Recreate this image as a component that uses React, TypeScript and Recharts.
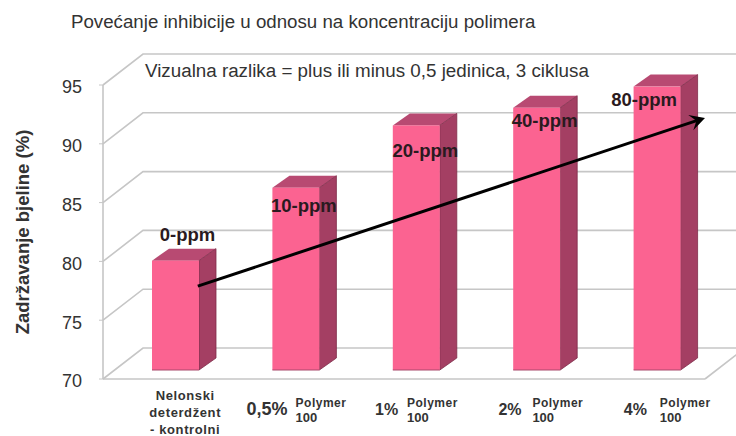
import React from 'react'
import { BarChart, Bar, XAxis, YAxis, CartesianGrid, LabelList, ReferenceLine } from 'recharts'

const categories = ['Nelonski deterdžent - kontrolni', '0,5% Polymer 100', '1 % Polymer 100', '2% Polymer 100', '4 % Polymer 100']
const retention = [79.3, 85.5, 90.8, 92.3, 94.1]
const ppmLabels = ['0-ppm', '10-ppm', '20-ppm', '40-ppm', '80-ppm']
const yTicks = [70, 75, 80, 85, 90, 95]
const controlLines = ['Nelonski', 'deterdžent', '- kontrolni']
const doseLabels = ['', '0,5%', '1 %', '2%', '4 %']

// arrow runs on a hidden 0-4 axis that spans the plot width
const arrowStart = { x: 0.63, y: 77.9 }
const arrowEnd = { x: 4, y: 92.2 }

const WIDTH = 736
const HEIGHT = 436
const PLOT_BOTTOM = 379
const WALL_DX = 40
const WALL_DY = 31
const BAR_DX = 12
const BAR_DY = 9
const SIDE_DX = 17
const SIDE_DY = 12

const GRID = '#c6c6c6'
const TEXT = '#333333'

// label shift from the bar's top centre, per bar
const labelShift = [
  { dx: 12, dy: -26 },
  { dx: 8, dy: 18 },
  { dx: 9, dy: 25 },
  { dx: 8, dy: 13 },
  { dx: -13, dy: 13 }
]
// tick text shift from the band centre, per category
const tickShift = [
  { dose: 0, carrier: 0 },
  { dose: -37, carrier: 12 },
  { dose: -29, carrier: 3 },
  { dose: -26, carrier: 8 },
  { dose: -21, carrier: 15 }
]

const Wall3D = ({ x1, y1, x2 }: any) => (
  <path
    d={
      `M${x1} ${y1}L${x1 + WALL_DX} ${y1 - WALL_DY}L${x2 + WALL_DX} ${y1 - WALL_DY}` +
      (Math.round(y1) === PLOT_BOTTOM ? `M${x2} ${y1}L${x2 + WALL_DX} ${y1 - WALL_DY}` : '')
    }
    fill="none"
    stroke={GRID}
    strokeWidth={1.6}
  />
)

const Bar3D = ({ x, y, width, height }: any) => {
  const left = x + BAR_DX
  const right = left + width
  const top = y - BAR_DY
  const bottom = top + height
  return (
    <g>
      <polygon
        points={`${left},${top} ${left + SIDE_DX},${top - SIDE_DY} ${right + SIDE_DX},${top - SIDE_DY} ${right},${top}`}
        fill="#b84a72"
      />
      <polygon
        points={`${right},${top} ${right + SIDE_DX},${top - SIDE_DY} ${right + SIDE_DX},${bottom - SIDE_DY} ${right},${bottom}`}
        fill="#a43f63"
        stroke="#7d2c49"
        strokeWidth={0.8}
      />
      <rect x={left} y={top} width={width} height={height} fill="#fb6391" />
      <line x1={left} y1={bottom} x2={right} y2={bottom} stroke="#a8486a" strokeWidth={1} />
    </g>
  )
}

const PpmLabel = ({ x, y, width, index, value }: any) => (
  <text
    x={x + BAR_DX + width / 2 + labelShift[index].dx}
    y={y - BAR_DY + labelShift[index].dy}
    textAnchor="middle"
    dominantBaseline="central"
    fontFamily="Liberation Sans"
    fontSize={18.5}
    fontWeight="bold"
    fill="#2a1a20"
  >
    {value}
  </text>
)

const CategoryTick = ({ x, index }: any) => {
  const bold = { fontFamily: 'Liberation Sans', fontWeight: 'bold', fill: TEXT }
  if (index === 0) {
    return (
      <g>
        {controlLines.map((line, i) => (
          <text key={line} x={x + 22} y={400 + i * 17} textAnchor="middle" fontSize={13} letterSpacing={0.6} {...bold}>
            {line}
          </text>
        ))}
      </g>
    )
  }
  const shift = tickShift[index]
  return (
    <g>
      <text x={x + shift.dose} y={415} fontSize={index === 1 ? 18 : 16} wordSpacing={-4.4} {...bold}>{doseLabels[index]}</text>
      <text x={x + shift.carrier} y={407} fontSize={12} letterSpacing={0.5} {...bold}>Polymer</text>
      <text x={x + shift.carrier} y={422} fontSize={13} {...bold}>100</text>
    </g>
  )
}

const ArrowLine = ({ x1, y1, x2, y2 }: any) => {
  const angle = Math.atan2(y2 - y1, x2 - x1)
  const at = (back: number, side: number) =>
    `${x2 - back * Math.cos(angle) - side * Math.sin(angle)},${y2 - back * Math.sin(angle) + side * Math.cos(angle)}`
  return (
    <g>
      <line x1={x1} y1={y1} x2={x2 - 4 * Math.cos(angle)} y2={y2 - 4 * Math.sin(angle)} stroke="#000" strokeWidth={3} />
      <polygon points={`${x2},${y2} ${at(15, 8)} ${at(9, 0)} ${at(15, -8)}`} fill="#000" />
    </g>
  )
}

export default function App() {
  const data = categories.map((name, i) => ({ name, value: retention[i], ppm: ppmLabels[i] }))

  return (
    <div style={{ position: 'absolute', left: 0, top: 0, width: WIDTH, height: HEIGHT, overflow: 'hidden', background: '#fff' }}>
      <BarChart
        width={WIDTH}
        height={HEIGHT}
        data={data}
        barSize={47}
        margin={{ top: 85, right: 31, bottom: 0, left: 0 }}
      >
        <CartesianGrid vertical={false} horizontal={Wall3D as any} />
        <XAxis
          dataKey="name"
          height={57}
          interval={0}
          axisLine={{ stroke: GRID, strokeWidth: 1.6 }}
          tickLine={false}
          tick={<CategoryTick />}
        />
        <XAxis xAxisId="pos" type="number" domain={[0, 4]} allowDataOverflow hide />
        <YAxis
          domain={[70, 95]}
          ticks={yTicks}
          width={103}
          tickSize={4}
          tickMargin={17}
          axisLine={{ stroke: GRID, strokeWidth: 1.6 }}
          tickLine={{ stroke: GRID }}
          tick={{ fill: TEXT, fontSize: 18, fontFamily: 'Liberation Sans', dy: 2 }}
          label={{
            value: 'Zadržavanje bjeline (%)',
            angle: -90,
            position: 'center',
            dx: -29,
            style: { fontFamily: 'Liberation Sans', fontWeight: 'bold', fontSize: 18.5, fill: TEXT, textAnchor: 'middle' }
          }}
        />
        <Bar dataKey="value" shape={<Bar3D />} isAnimationActive={false}>
          <LabelList dataKey="ppm" content={<PpmLabel />} />
        </Bar>
        <ReferenceLine
          xAxisId="pos"
          segment={[arrowStart, arrowEnd]}
          ifOverflow="visible"
          shape={<ArrowLine />}
        />
        <text x={71} y={28} fontFamily="Liberation Sans" fontSize={18.7} fill={TEXT}>
          Povećanje inhibicije u odnosu na koncentraciju polimera
        </text>
        <text x={145} y={77} fontFamily="Liberation Sans" fontSize={18.8} fill={TEXT}>
          Vizualna razlika = plus ili minus 0,5 jedinica, 3 ciklusa
        </text>
      </BarChart>
    </div>
  )
}
